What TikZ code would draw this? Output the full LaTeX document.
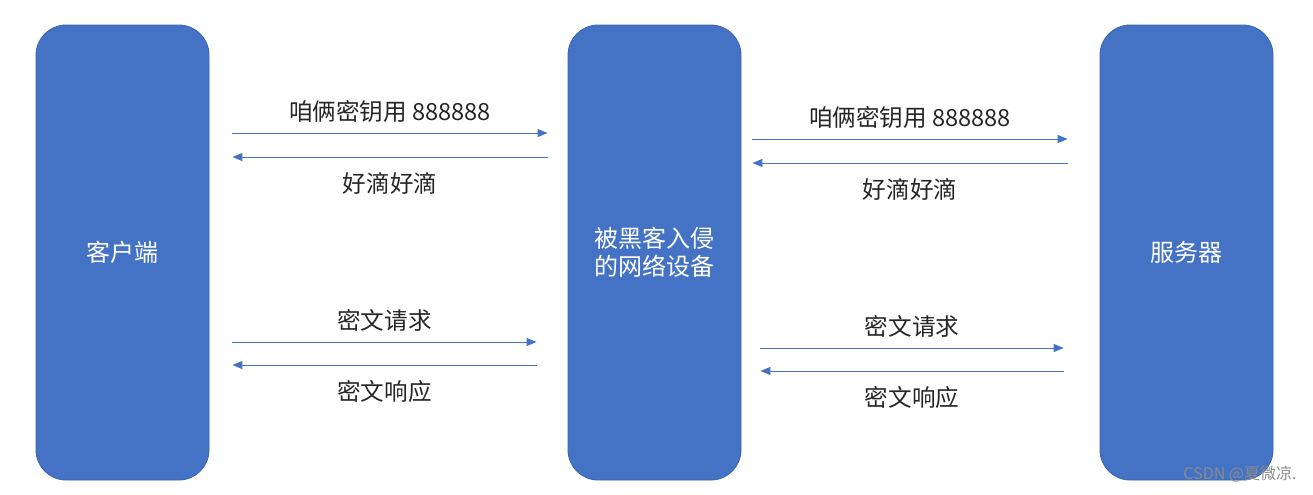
\documentclass[tikz,border=0pt]{standalone}
\usepackage{fontspec}
\setmainfont{Noto Sans CJK SC}
\usepackage{xcolor}
\definecolor{officeblue}{HTML}{4472C4}
\definecolor{edgeblue}{HTML}{3A64B0}
\definecolor{txt}{HTML}{262626}
\usetikzlibrary{positioning, arrows.meta, calc}

\begin{document}
\begin{tikzpicture}[
  x=0.5pt, y=-0.5pt,
  >={Triangle[length=5pt, width=4pt]},
  host/.style={draw=edgeblue, line width=0.4pt, fill=officeblue, rounded corners=15pt,
               minimum width=86.5pt, minimum height=227.5pt, align=center,
               text=white, font=\fontsize{12}{14}\selectfont},
  msg/.style={->, officeblue, line width=0.5pt},
  lbl/.style={text=txt, font=\fontsize{11.8}{13}\selectfont},
]
\useasboundingbox (0,0) rectangle (1313,494);

% --- the three parties ---
\node[host] (client) at (122.5,252.5) {客户端};
\node[host] (hacked) at (654.5,252.5) {被黑客入侵\\的网络设备};
\node[host] (server) at (1186.5,252.5) {服务器};

% --- client <-> hacked device ---
\draw[msg] ([xshift=11.5pt, yshift=59.75pt]client.east) --
  node[lbl, above=1.5pt]{咱俩密钥用 888888} ([xshift=-10pt, yshift=59.75pt]hacked.west);
\draw[msg] ([xshift=-10pt, yshift=47.75pt]hacked.west) --
  node[lbl, below=4pt]{好滴好滴} ([xshift=11.5pt, yshift=47.75pt]client.east);
\draw[msg] ([xshift=11.5pt, yshift=-44.75pt]client.east) --
  node[lbl, above=1.5pt]{密文请求} ([xshift=-15.5pt, yshift=-44.75pt]hacked.west);
\draw[msg] ([xshift=-15.5pt, yshift=-56.25pt]hacked.west) --
  node[lbl, below=4pt]{密文响应} ([xshift=11.5pt, yshift=-56.25pt]client.east);

% --- hacked device <-> server ---
\draw[msg] ([xshift=5.5pt, yshift=56.75pt]hacked.east) --
  node[lbl, above=1.5pt]{咱俩密钥用 888888} ([xshift=-16pt, yshift=56.75pt]server.west);
\draw[msg] ([xshift=-16pt, yshift=44.75pt]server.west) --
  node[lbl, below=4pt]{好滴好滴} ([xshift=5.5pt, yshift=44.75pt]hacked.east);
\draw[msg] ([xshift=9.5pt, yshift=-47.75pt]hacked.east) --
  node[lbl, above=1.5pt]{密文请求} ([xshift=-18pt, yshift=-47.75pt]server.west);
\draw[msg] ([xshift=-18pt, yshift=-59.25pt]server.west) --
  node[lbl, below=4pt]{密文响应} ([xshift=9.5pt, yshift=-59.25pt]hacked.east);

% --- watermark ---
\node[text=black!45, font=\fontsize{8}{9}\selectfont] (mark) at (1240,474) {CSDN @夏微凉.};
\end{tikzpicture}
\end{document}
